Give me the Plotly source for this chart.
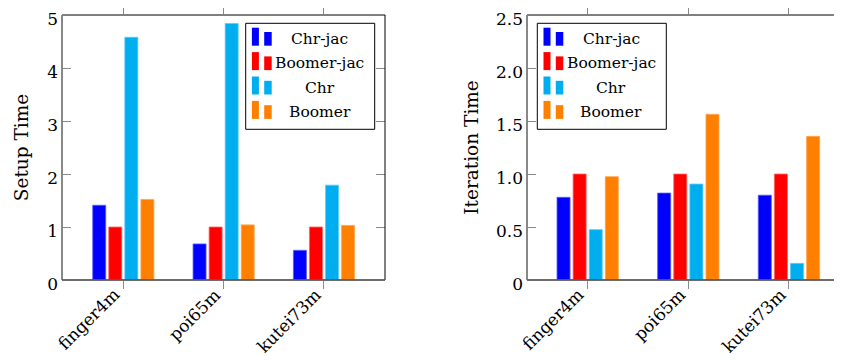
import plotly.graph_objects as go

# ---------------- data ----------------
categories = ["finger4m", "poi65m", "kutei73m"]
series_names = ["Chr-jac", "Boomer-jac", "Chr", "Boomer"]

setup_chr_jac = [1.41, 0.68, 0.56]
setup_boomer_jac = [1.00, 1.00, 1.00]
setup_chr = [4.58, 4.84, 1.79]
setup_boomer = [1.52, 1.04, 1.03]

iter_chr_jac = [0.78, 0.82, 0.80]
iter_boomer_jac = [1.00, 1.00, 1.00]
iter_chr = [0.475, 0.905, 0.157]
iter_boomer = [0.975, 1.563, 1.355]

setup_ticks = [0, 1, 2, 3, 4, 5]
setup_tick_labels = ["0", "1", "2", "3", "4", "5"]
iter_ticks = [0, 0.5, 1.0, 1.5, 2.0, 2.5]
iter_tick_labels = ["0", "0.5", "1.0", "1.5", "2.0", "2.5"]

# ---------------- style ----------------
colors = ["#0000FF", "#FF0000", "#00AEEF", "#FF8000"]
edge_colors = ["#5a5aff", "#ff6464", "#5ccaf5", "#ffa552"]
FONT = "DejaVu Serif"
OFF = 8                      # page body margin of the html page
W, H = 842 - OFF, 360 - OFF  # figure fits exactly in the window
PLOT_TOP, PLOT_BOT = 15, 280  # screen pixels
MT, MB = PLOT_TOP - OFF, 360 - PLOT_BOT
PLOT_H = H - MT - MB
GREY = "#8a8a8a"
TICK_SIZE, TITLE_SIZE, LEGEND_SIZE, CAT_SIZE = 17, 18.5, 15.5, 17


def sx(px):
    """screen x pixel -> paper fraction"""
    return (px - OFF) / W


def sy(py):
    """screen y pixel -> paper fraction"""
    return (PLOT_BOT - py) / PLOT_H


fig = go.Figure()

setup_series = [setup_chr_jac, setup_boomer_jac, setup_chr, setup_boomer]
iter_series = [iter_chr_jac, iter_boomer_jac, iter_chr, iter_boomer]

for i, (name, vals) in enumerate(zip(series_names, setup_series)):
    fig.add_trace(go.Bar(x=categories, y=vals, name=name,
                         marker=dict(color=colors[i], line=dict(color=edge_colors[i], width=0.8)),
                         xaxis="x", yaxis="y", showlegend=False))
for i, (name, vals) in enumerate(zip(series_names, iter_series)):
    fig.add_trace(go.Bar(x=categories, y=vals, name=name,
                         marker=dict(color=colors[i], line=dict(color=edge_colors[i], width=0.8)),
                         xaxis="x2", yaxis="y2", showlegend=False))

xcommon = dict(type="category", showline=False, showgrid=False, zeroline=False,
               ticks="outside", ticklen=8, tickcolor=GREY, tickwidth=1, mirror="ticks",
               showticklabels=False)
ycommon = dict(showline=False, showgrid=False, zeroline=False,
               ticks="inside", ticklen=9, tickcolor=GREY, tickwidth=1,
               tickfont=dict(family=FONT, size=TICK_SIZE, color="#000"),
               ticklabelstandoff=3, ticklabeloverflow="allow", ticklabelshift=4)

fig.update_layout(
    width=W, height=H,
    margin=dict(l=0, r=0, t=MT, b=MB, pad=0, autoexpand=False),
    paper_bgcolor="white", plot_bgcolor="white",
    barmode="group", bargap=0.36, bargroupgap=0.19,
    showlegend=False,
    font=dict(family=FONT, color="#000"),
    xaxis=dict(domain=[sx(62), sx(385)], anchor="y", range=[-0.611, 2.608], **xcommon),
    xaxis2=dict(domain=[sx(527), 1.0], anchor="y2", range=[-0.603, 2.527], **xcommon),
    yaxis=dict(domain=[0, 1], anchor="x", range=[0, 5], tickvals=setup_ticks,
               ticktext=setup_tick_labels, mirror="ticks",
               title=dict(text="Setup Time", font=dict(family=FONT, size=TITLE_SIZE), standoff=13),
               **ycommon),
    yaxis2=dict(domain=[0, 1], anchor="x2", range=[0, 2.5], tickvals=iter_ticks,
                ticktext=iter_tick_labels,
                title=dict(text="Iteration Time", font=dict(family=FONT, size=TITLE_SIZE), standoff=12),
                **ycommon),
)

shapes = []
# frames
for (x0, x1) in [(62, 385), (527, 850)]:
    shapes.append(dict(type="rect", xref="paper", yref="paper",
                       x0=sx(x0), x1=sx(x1), y0=0, y1=1,
                       line=dict(color="#000", width=1), layer="above"))
    shapes.append(dict(type="line", xref="paper", yref="paper",
                       x0=sx(x0), x1=sx(x0), y0=0, y1=1,
                       line=dict(color=GREY, width=1.8), layer="above"))
    shapes.append(dict(type="line", xref="paper", yref="paper",
                       x0=sx(x0), x1=sx(x1), y0=0, y1=0,
                       line=dict(color="#666", width=1.4), layer="above"))

annotations = []
# rotated category labels (end of text just below each tick)
for xa in ["x", "x2"]:
    for c in categories:
        annotations.append(dict(xref=xa, yref="paper", x=c, y=sy(282), xshift=3,
                                text=c, showarrow=False, textangle=-45,
                                xanchor="right", yanchor="top",
                                font=dict(family=FONT, size=CAT_SIZE, color="#000")))

# custom pgfplots-like legends
ROW = 24.4
for box_left in [245.7, 537.3]:
    top, bottom = 23.3, 129.3
    shapes.append(dict(type="rect", xref="paper", yref="paper",
                       x0=sx(box_left), x1=sx(box_left + 129), y0=sy(bottom), y1=sy(top),
                       fillcolor="white", line=dict(color="#000", width=1), layer="above"))
    for i, name in enumerate(series_names):
        rt = top + 4.4 + ROW * i
        rb = rt + 18
        shapes.append(dict(type="rect", xref="paper", yref="paper",
                           x0=sx(box_left + 6.2), x1=sx(box_left + 13.2),
                           y0=sy(rb), y1=sy(rt),
                           fillcolor=colors[i], line=dict(width=0), layer="above"))
        shapes.append(dict(type="rect", xref="paper", yref="paper",
                           x0=sx(box_left + 18.5), x1=sx(box_left + 26),
                           y0=sy(rb), y1=sy(rt + 4.3),
                           fillcolor=colors[i], line=dict(width=0), layer="above"))
        annotations.append(dict(xref="paper", yref="paper", x=sx(box_left + 74),
                                y=sy(rt + 11), text=name, showarrow=False,
                                xanchor="center", yanchor="middle",
                                font=dict(family=FONT, size=LEGEND_SIZE, color="#000")))

fig.update_layout(shapes=shapes, annotations=annotations)

fig.write_html("out.html")
